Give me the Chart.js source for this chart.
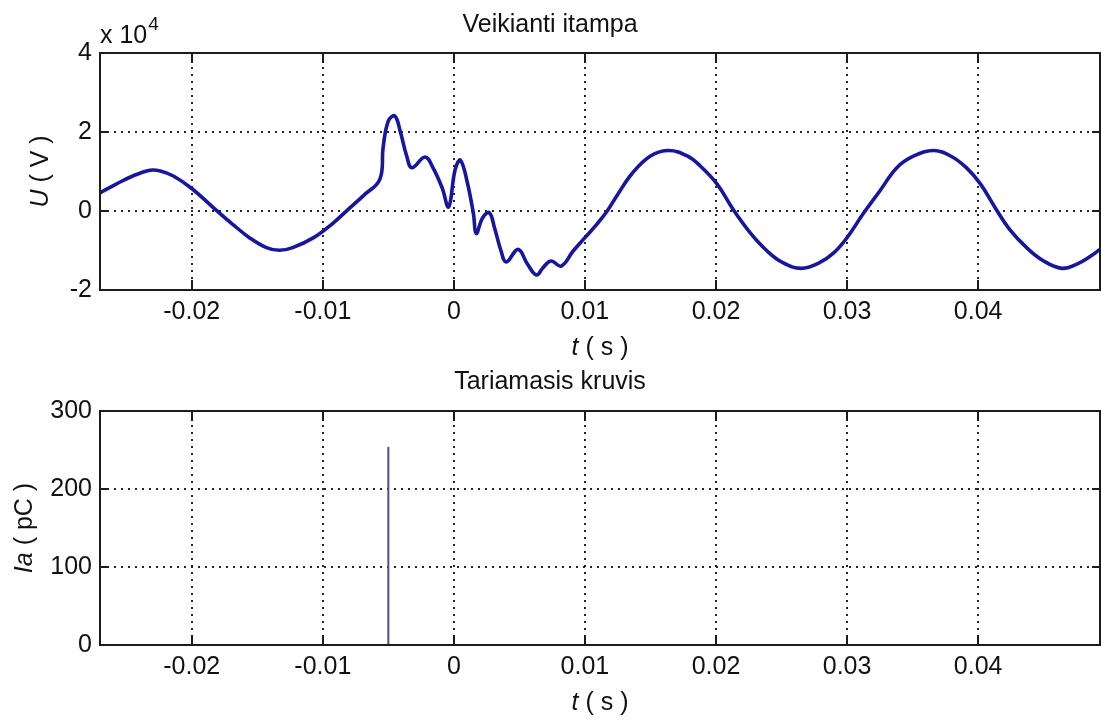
<!DOCTYPE html>
<html>
<head>
<meta charset="utf-8">
<script src="https://cdn.jsdelivr.net/npm/chart.js@4.4.1/dist/chart.umd.min.js"></script>
<style>
  html, body { margin: 0; padding: 0; background: #fff; }
  #wrap { position: relative; width: 1101px; height: 720px; overflow: hidden; }
  #c1 { position: absolute; left: 0; top: 0; }
  #c2 { position: absolute; left: 0; top: 360px; }
</style>
</head>
<body>
<div id="wrap">
  <canvas id="c1" width="1101" height="360"></canvas>
  <canvas id="c2" width="1101" height="360"></canvas>
</div>
<script>
// ---------- data ----------
const tMin = -0.027;
const tMax = 0.0493;

// Top plot: applied voltage U (V) versus time t (s)
const voltageTime = [
  -0.0270, -0.0258, -0.0245, -0.0232, -0.0224, -0.0214, -0.0200, -0.0184,
  -0.0169, -0.0156, -0.0143, -0.0133, -0.0123, -0.0107, -0.0093, -0.0081,
  -0.0069, -0.00565, -0.0054, -0.0050, -0.0045, -0.0041, -0.0036, -0.0032,
  -0.0022, -0.0016, -0.0009, -0.0004, 0.0001, 0.0005, 0.0010, 0.0015,
  0.0017, 0.0022, 0.0027, 0.0031, 0.0036, 0.0040, 0.0049, 0.0056,
  0.0063, 0.0068, 0.0074, 0.0082, 0.0091, 0.0100, 0.0109, 0.0117,
  0.0125, 0.0136, 0.0150, 0.0164, 0.0178, 0.0188, 0.0201, 0.0213,
  0.0226, 0.0239, 0.0251, 0.0265, 0.0279, 0.0290, 0.0300, 0.0312,
  0.0325, 0.0338, 0.0351, 0.0366, 0.0379, 0.0391, 0.0402, 0.0413,
  0.0424, 0.0437, 0.0450, 0.0464, 0.0475, 0.0486, 0.0493
];
const voltageValues = [
  4600, 6750, 8860, 10300, 10150, 8860, 5700, 1000,
  -3300, -6750, -9280, -9950, -9280, -6750, -3300, 300,
  3900, 8020, 16030, 22790, 24050, 20260, 13930, 10970,
  13670, 10970, 5900, 1010, 10550, 12860, 7600, -840,
  -5740, -1690, -420, -4220, -10130, -12910, -9710, -13340,
  -16200, -14350, -12660, -13930, -10130, -6750, -3380, 0,
  4200, 9500, 13930, 15300, 13930, 11390, 6750, 420,
  -5490, -10130, -13080, -14520, -13080, -10550, -6750, -840,
  5060, 10970, 13930, 15300, 13930, 10970, 6750, 840,
  -4640, -9280, -12660, -14520, -13500, -11390, -9710
];

// Bottom plot: apparent charge pulses (pC)
const chargeTime = [-0.005];
const chargeValues = [254];

// Tick values
const timeTicks = [-0.02, -0.01, 0, 0.01, 0.02, 0.03, 0.04];
const voltageTicks = [-20000, 0, 20000, 40000];
const chargeTicks = [0, 100, 200, 300];

// Texts
const topTitle = 'Veikianti itampa';
const bottomTitle = 'Tariamasis kruvis';

// ---------- helpers ----------
const FAMILY = '"Liberation Sans", Arial, Helvetica, sans-serif';
const FS = 25;
Chart.defaults.font.family = FAMILY;
Chart.defaults.color = '#000';

function fontStr(size, italic) {
  return (italic ? 'italic ' : '') + size + 'px ' + FAMILY;
}
function drawMixed(ctx, parts, cx, baseY, size) {
  const widths = parts.map(p => { ctx.font = fontStr(size, p[1]); return ctx.measureText(p[0]).width; });
  const total = widths.reduce((a, b) => a + b, 0);
  let x = cx - total / 2;
  ctx.textAlign = 'left';
  ctx.textBaseline = 'alphabetic';
  ctx.fillStyle = '#111';
  parts.forEach((p, i) => { ctx.font = fontStr(size, p[1]); ctx.fillText(p[0], x, baseY); x += widths[i]; });
}
function fmtTime(v) {
  const r = Math.round(v * 100) / 100;
  return (Object.is(r, -0) ? 0 : r).toString();
}

const framePlugin = {
  id: 'matlabFrame',
  afterDatasetsDraw(chart, args, o) {
    const ctx = chart.ctx;
    const a = chart.chartArea;
    const xs = chart.scales.x, ys = chart.scales.y;
    ctx.save();
    ctx.strokeStyle = '#1c1c1c';
    ctx.lineWidth = 2;
    ctx.beginPath();
    xs.ticks.forEach(t => {
      const px = Math.round(xs.getPixelForValue(t.value));
      ctx.moveTo(px, a.bottom); ctx.lineTo(px, a.bottom - 10);
      ctx.moveTo(px, a.top); ctx.lineTo(px, a.top + 10);
    });
    ys.ticks.forEach(t => {
      const py = Math.round(ys.getPixelForValue(t.value));
      ctx.moveTo(a.left, py); ctx.lineTo(a.left + 8, py);
      ctx.moveTo(a.right, py); ctx.lineTo(a.right - 8, py);
    });
    ctx.stroke();
    ctx.strokeRect(a.left, a.top, a.right - a.left, a.bottom - a.top);
    ctx.restore();
  },
  afterDraw(chart, args, o) {
    const ctx = chart.ctx;
    const a = chart.chartArea;
    ctx.save();
    drawMixed(ctx, o.xTitle, (a.left + a.right) / 2, o.xTitleBase, FS);
    ctx.save();
    ctx.translate(o.yTitleBase, (a.top + a.bottom) / 2);
    ctx.rotate(-Math.PI / 2);
    drawMixed(ctx, o.yTitle, 0, 0, FS);
    ctx.restore();
    if (o.exponent) {
      ctx.fillStyle = '#111';
      ctx.textAlign = 'left';
      ctx.textBaseline = 'alphabetic';
      ctx.font = fontStr(FS, false);
      const base = 'x 10';
      ctx.fillText(base, a.left, 43);
      const w = ctx.measureText(base).width;
      ctx.font = fontStr(19, false);
      ctx.fillText(o.exponent, a.left + w + 1, 30);
    }
    ctx.restore();
  }
};

function xScale() {
  return {
    type: 'linear',
    min: tMin,
    max: tMax,
    afterBuildTicks: s => { s.ticks = timeTicks.map(v => ({ value: v })); },
    afterFit: s => { s.height = s.options._fixedHeight; },
    ticks: {
      font: { size: FS },
      color: '#111',
      padding: 7,
      maxRotation: 0,
      autoSkip: false,
      callback: v => fmtTime(v)
    },
    grid: { color: 'rgba(0,0,0,0.85)', lineWidth: 2, drawTicks: false, borderDash: [2, 5] },
    border: { display: false, dash: [2, 5] }
  };
}
function yScale(min, max, ticks, fmt) {
  return {
    type: 'linear',
    min: min,
    max: max,
    afterBuildTicks: s => { s.ticks = ticks.map(v => ({ value: v })); },
    afterFit: s => { s.width = 100; },
    ticks: {
      font: { size: FS },
      color: '#111',
      padding: 8,
      callback: fmt
    },
    grid: { color: 'rgba(0,0,0,0.85)', lineWidth: 2, drawTicks: false, borderDash: [2, 5] },
    border: { display: false, dash: [2, 5] }
  };
}

// ---------- top chart ----------
const voltagePoints = voltageTime.map((t, i) => ({ x: t, y: voltageValues[i] }));
const x1 = xScale(); x1._fixedHeight = 70;
new Chart(document.getElementById('c1'), {
  type: 'line',
  data: {
    datasets: [{
      data: voltagePoints,
      borderColor: '#16169e',
      borderWidth: 3.6,
      pointRadius: 0,
      tension: 0.4,
      borderJoinStyle: 'round',
      fill: false
    }]
  },
  options: {
    responsive: false,
    animation: false,
    devicePixelRatio: 1,
    layout: { padding: { left: 0, right: 1, top: 0, bottom: 0 } },
    plugins: {
      legend: { display: false },
      tooltip: { enabled: false },
      title: {
        display: true, text: topTitle, color: '#111',
        font: { size: FS, weight: 'normal' },
        padding: { top: 10, bottom: 13 }
      },
      matlabFrame: {
        xTitle: [['t', true], [' ( s )', false]], xTitleBase: 355,
        yTitle: [['U', true], [' ( V )', false]], yTitleBase: 48,
        exponent: '4'
      }
    },
    scales: {
      x: x1,
      y: yScale(-20000, 40000, voltageTicks, v => String(Math.round(v / 10000)))
    }
  },
  plugins: [framePlugin]
});

// ---------- bottom chart ----------
const chargePoints = [];
chargeTime.forEach((t, i) => { chargePoints.push({ x: t, y: 0 }); chargePoints.push({ x: t, y: chargeValues[i] }); });
const x2 = xScale(); x2._fixedHeight = 75;
new Chart(document.getElementById('c2'), {
  type: 'line',
  data: {
    datasets: [{
      data: chargePoints,
      borderColor: '#4e4e8e',
      borderWidth: 2,
      pointRadius: 0,
      tension: 0,
      fill: false
    }]
  },
  options: {
    responsive: false,
    animation: false,
    devicePixelRatio: 1,
    layout: { padding: { left: 0, right: 1, top: 0, bottom: 0 } },
    plugins: {
      legend: { display: false },
      tooltip: { enabled: false },
      title: {
        display: true, text: bottomTitle, color: '#111',
        font: { size: FS, weight: 'normal' },
        padding: { top: 7, bottom: 14 }
      },
      matlabFrame: {
        xTitle: [['t', true], [' ( s )', false]], xTitleBase: 350,
        yTitle: [['Ia', true], [' ( pC )', false]], yTitleBase: 32,
        exponent: null
      }
    },
    scales: {
      x: x2,
      y: yScale(0, 300, chargeTicks, v => String(v))
    }
  },
  plugins: [framePlugin]
});
</script>
</body>
</html>
